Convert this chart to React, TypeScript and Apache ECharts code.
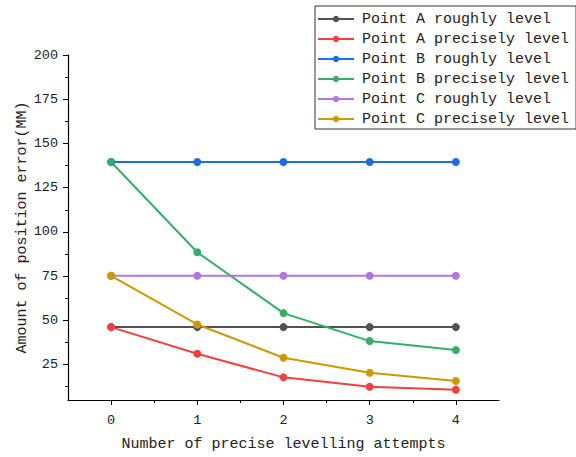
import React, { useEffect, useRef } from "react";
import * as echarts from "echarts";

const attempts = [0, 1, 2, 3, 4];
const seriesNames = [
  "Point A roughly level",
  "Point A precisely level",
  "Point B roughly level",
  "Point B precisely level",
  "Point C roughly level",
  "Point C precisely level",
];
const aRough = [46.2, 46.2, 46.2, 46.2, 46.2];
const aPrecise = [46.2, 31.1, 17.8, 12.5, 10.8];
const bRough = [139.5, 139.5, 139.5, 139.5, 139.5];
const bPrecise = [139.5, 88.5, 54.1, 38.3, 33.2];
const cRough = [75.2, 75.2, 75.2, 75.2, 75.2];
const cPrecise = [75.2, 47.7, 28.9, 20.4, 15.7];
const yTicks = [25, 50, 75, 100, 125, 150, 175, 200];
const yMinorTicks = [12.5, 37.5, 62.5, 87.5, 112.5, 137.5, 162.5, 187.5];
const xMinorTicks = [0.5, 1.5, 2.5, 3.5];

const colors = ["#515151", "#F14040", "#1A6FDF", "#37AD6B", "#B177DE", "#CC9900"];
const FONT = "'Liberation Mono', 'DejaVu Sans Mono', monospace";

export default function App() {
  const ref = useRef<HTMLDivElement>(null);
  useEffect(() => {
    if (!ref.current) return;
    const chart = echarts.init(ref.current, null, { renderer: "svg" });
    const allData = [aRough, aPrecise, bRough, bPrecise, cRough, cPrecise];
    const axisLineMain = { show: true, onZero: false, lineStyle: { color: "#000", width: 1.2 } };
    const axisLineHidden = { show: false, onZero: false };
    chart.setOption({
      animation: false,
      backgroundColor: "#fff",
      color: colors,
      textStyle: { fontFamily: FONT },
      grid: { left: 68, top: 55, right: 77, bottom: 55, containLabel: false },
      legend: {
        orient: "vertical",
        left: 315,
        top: 6,
        itemWidth: 36,
        itemHeight: 8,
        itemGap: 0,
        padding: [3, 7, 0, 2],
        borderColor: "#333",
        borderWidth: 1,
        backgroundColor: "#fff",
        textStyle: { fontFamily: FONT, fontSize: 15, color: "#222", lineHeight: 20, height: 20, padding: [0, 0, 0, 3] },
        data: seriesNames,
      },
      xAxis: [
        {
          type: "value",
          min: -0.5,
          max: 4.5,
          name: "Number of precise levelling attempts",
          nameLocation: "middle",
          nameGap: 37,
          nameMoveOverlap: false,
          nameTextStyle: { fontFamily: FONT, fontSize: 15, color: "#222" },
          axisLine: axisLineMain,
          axisTick: { show: true, inside: false, length: 5, customValues: attempts, lineStyle: { color: "#000" } },
          axisLabel: { customValues: attempts, fontFamily: FONT, fontSize: 13.5, color: "#222", margin: 13 },
          splitLine: { show: false },
        },
        {
          type: "value",
          min: -0.5,
          max: 4.5,
          position: "bottom",
          axisLine: axisLineHidden,
          axisTick: { show: true, length: 3, customValues: xMinorTicks, lineStyle: { color: "#000" } },
          axisLabel: { show: false },
          splitLine: { show: false },
        },
      ],
      yAxis: [
        {
          type: "value",
          min: 5,
          max: 200,
          position: "left",
          name: "Amount of position error(MM)",
          nameLocation: "middle",
          nameGap: 38,
          nameMoveOverlap: false,
          nameTextStyle: { fontFamily: FONT, fontSize: 15, color: "#222" },
          axisLine: axisLineMain,
          axisTick: { show: true, inside: false, length: 5, customValues: yTicks, lineStyle: { color: "#000" } },
          axisLabel: { customValues: yTicks, fontFamily: FONT, fontSize: 13.5, color: "#222", margin: 10 },
          splitLine: { show: false },
        },
        {
          type: "value",
          min: 5,
          max: 200,
          position: "left",
          axisLine: axisLineHidden,
          axisTick: { show: true, length: 3, customValues: yMinorTicks, lineStyle: { color: "#000" } },
          axisLabel: { show: false },
          splitLine: { show: false },
        },
      ],
      series: seriesNames.map((name, i) => ({
        name,
        type: "line",
        xAxisIndex: 0,
        yAxisIndex: 0,
        symbol: "circle",
        symbolSize: 8,
        lineStyle: { width: 2, color: colors[i] },
        itemStyle: { color: colors[i] },
        data: attempts.map((x, j) => [x, allData[i][j]]),
      })),
    });
    return () => chart.dispose();
  }, []);
  return <div ref={ref} style={{ position: "absolute", left: 0, top: 0, width: 576, height: 457 }} />;
}
